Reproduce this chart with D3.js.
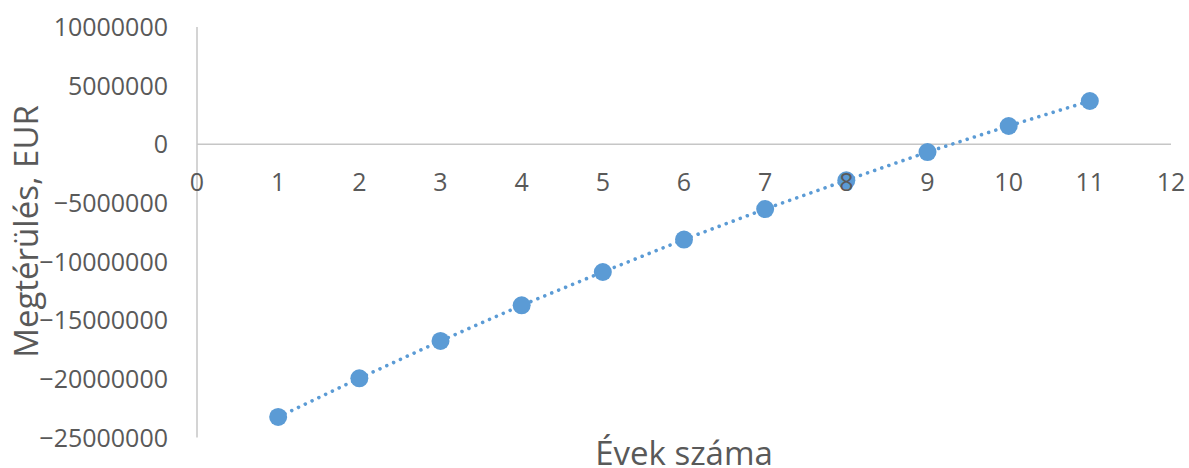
<!DOCTYPE html>
<html>
<head>
<meta charset="utf-8">
<script src="https://cdn.jsdelivr.net/npm/d3@7"></script>
<style>
  html, body { margin: 0; padding: 0; background: #ffffff; }
  svg { display: block; }
  text { font-family: "Open Sans", "Noto Sans", sans-serif; fill: #595959; }
</style>
</head>
<body>
<svg id="chart" width="1189" height="468"></svg>
<script>
// Years since investment and cumulative return (EUR)
const years = [1, 2, 3, 4, 5, 6, 7, 8, 9, 10, 11];
const returns = [-23250000, -19950000, -16770000, -13730000, -10890000, -8120000,
                 -5520000, -3070000, -660000, 1560000, 3690000];

const xTicks = [0, 1, 2, 3, 4, 5, 6, 7, 8, 9, 10, 11, 12];
const yTicks = [10000000, 5000000, 0, -5000000, -10000000, -15000000, -20000000, -25000000];

const xTitle = "Évek száma";
const yTitle = "Megtérülés, EUR";

const width = 1189, height = 468;
const plot = { left: 197, right: 1171, top: 27, bottom: 437.5 };

const svg = d3.select("#chart");

const x = d3.scaleLinear().domain([0, 12]).range([plot.left, plot.right]);
const y = d3.scaleLinear().domain([-25000000, 10000000]).range([plot.bottom, plot.top]);

const axisColor = "#c6c6c6";
const seriesColor = "#5b9bd5";

// Vertical axis line at x = 0
svg.append("line")
  .attr("x1", x(0)).attr("x2", x(0))
  .attr("y1", y(10000000)).attr("y2", y(-25000000))
  .attr("stroke", axisColor).attr("stroke-width", 1.5);

// Horizontal axis line at y = 0
svg.append("line")
  .attr("x1", x(0)).attr("x2", x(12))
  .attr("y1", y(0)).attr("y2", y(0))
  .attr("stroke", axisColor).attr("stroke-width", 1.5);

// Dotted series line
const line = d3.line()
  .x((d, i) => x(years[i]))
  .y(d => y(d));

svg.append("path")
  .datum(returns)
  .attr("d", line)
  .attr("fill", "none")
  .attr("stroke", seriesColor)
  .attr("stroke-width", 3.6)
  .attr("stroke-linecap", "round")
  .attr("stroke-dasharray", "0.01 7.5");

// Markers
svg.append("g")
  .selectAll("circle")
  .data(returns)
  .join("circle")
  .attr("cx", (d, i) => x(years[i]))
  .attr("cy", d => y(d))
  .attr("r", 9)
  .attr("fill", seriesColor);

// Y tick labels
svg.append("g")
  .selectAll("text")
  .data(yTicks)
  .join("text")
  .attr("x", 168)
  .attr("y", d => y(d))
  .attr("dy", "0.36em")
  .attr("text-anchor", "end")
  .attr("font-size", 25)
  .text(d => d3.format("d")(d));

// X tick labels, drawn below the zero line
svg.append("g")
  .selectAll("text")
  .data(xTicks)
  .join("text")
  .attr("x", d => x(d))
  .attr("y", y(0) + 47)
  .attr("text-anchor", "middle")
  .attr("font-size", 25)
  .text(d => d);

// Axis titles
svg.append("text")
  .attr("x", (plot.left + plot.right) / 2)
  .attr("y", 465)
  .attr("text-anchor", "middle")
  .attr("font-size", 33)
  .text(xTitle);

svg.append("text")
  .attr("transform", `translate(38, 231.5) rotate(-90)`)
  .attr("text-anchor", "middle")
  .attr("font-size", 33)
  .text(yTitle);
</script>
</body>
</html>
